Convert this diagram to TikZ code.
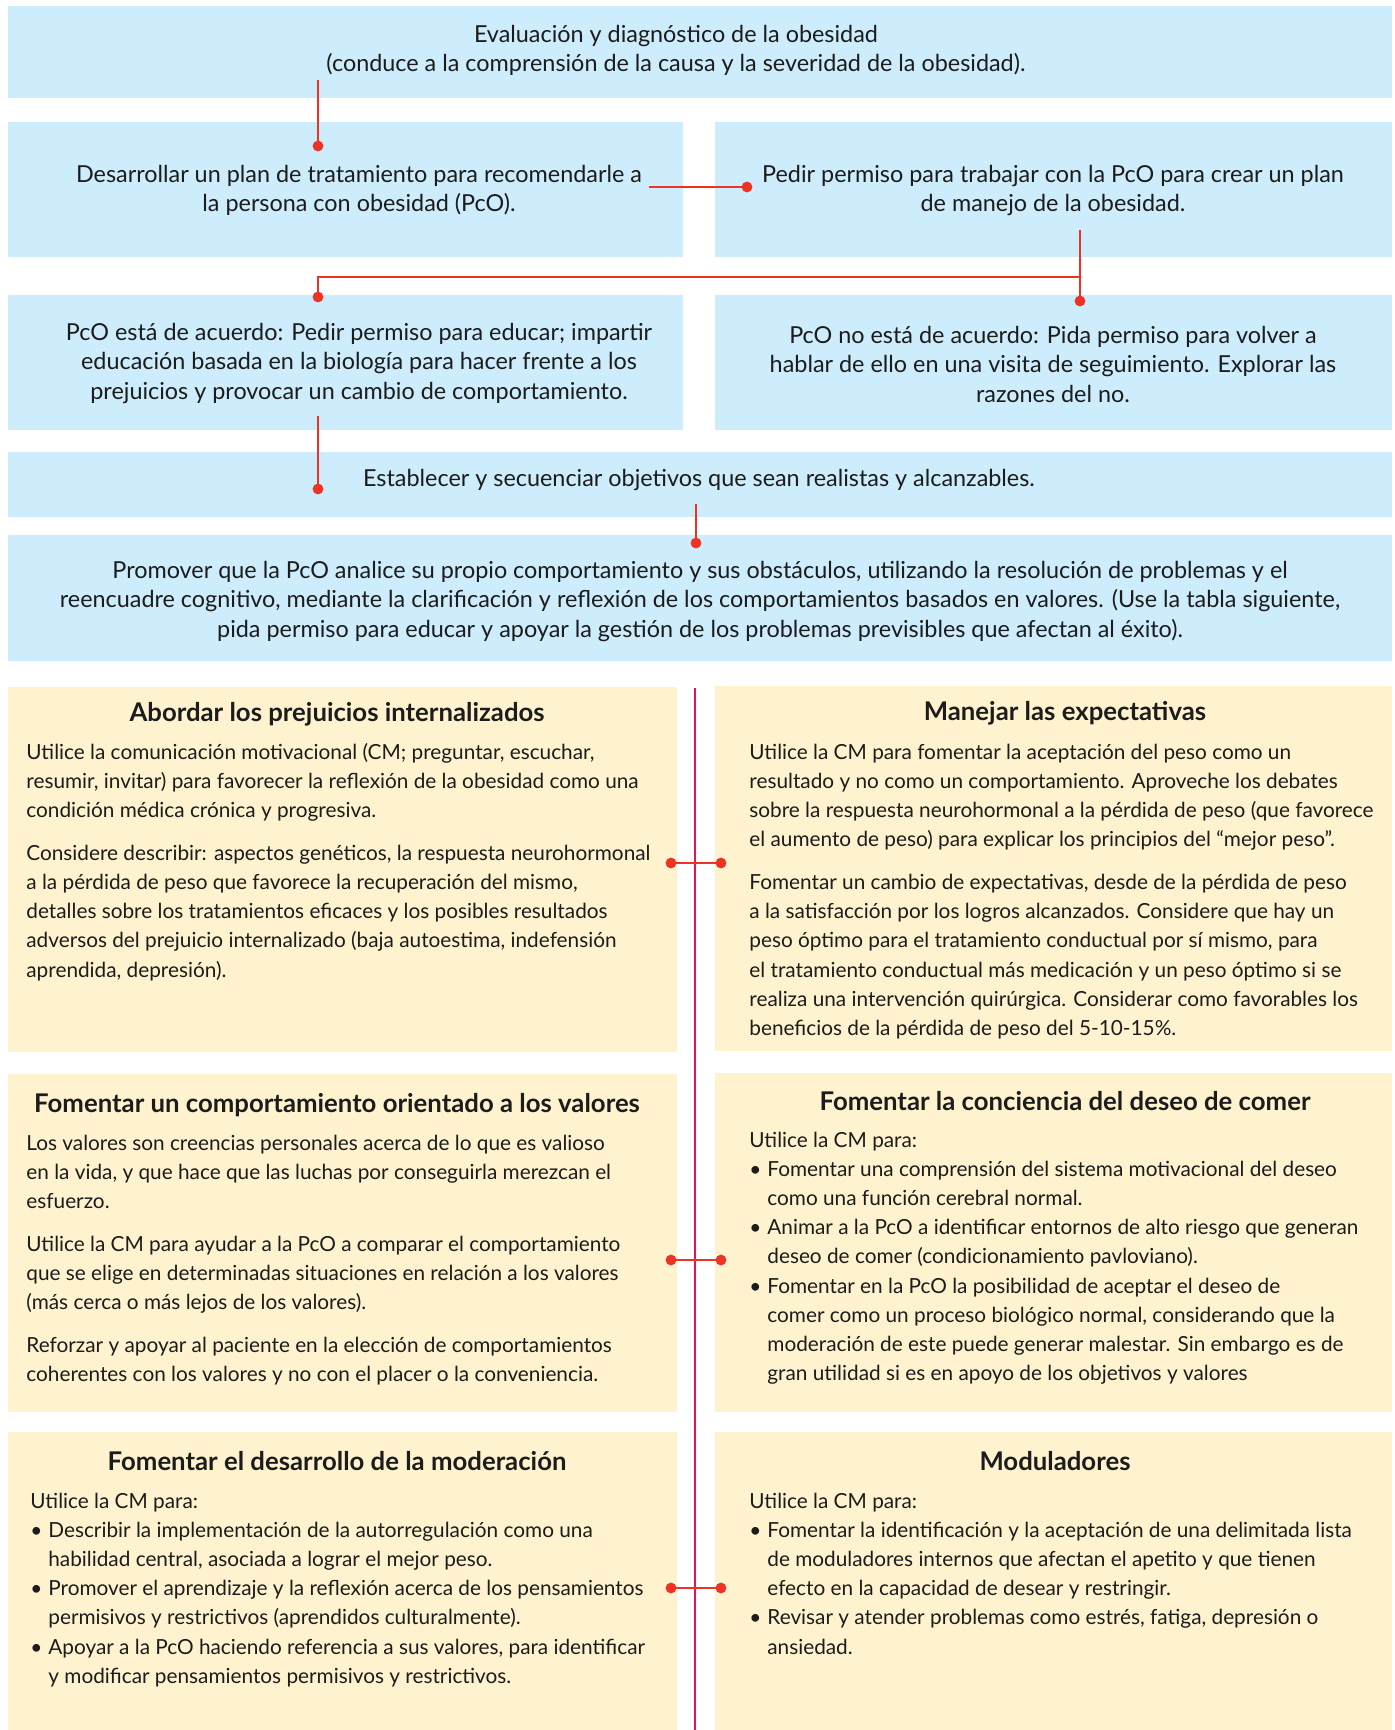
\documentclass[tikz,border=0pt]{standalone}
\usepackage{fontspec}
\setmainfont{Lato}

\definecolor{boxblue}{RGB}{205,236,252}
\definecolor{boxyellow}{RGB}{255,242,206}
\definecolor{linkred}{RGB}{238,50,36}
\definecolor{spine}{RGB}{228,20,85}
\definecolor{ink}{RGB}{28,28,28}

% font size that gives a sample string a wanted width (in pt)
\newlength\calw
\newcommand\fitsize[3]{%
  \settowidth\calw{\fontsize{10pt}{12pt}\selectfont #3}%
  \pgfmathsetmacro#1{10*#2/\calw}}

\newcommand\bitem{\makebox[9pt][l]{\textbullet}}
\newcommand\bcont{\hspace*{9pt}}
\newcommand\pgap{\\[6.8pt]}

\tikzset{
  bluetext/.style={anchor=base, inner sep=0pt, text=ink,
    font=\fontsize{\bluesz pt}{14.75pt}\selectfont},
  titletext/.style={anchor=base, inner sep=0pt, text=ink,
    font=\fontsize{\titlesz pt}{14.6pt}\selectfont\bfseries},
  bodytext/.style={anchor=base west, inner sep=0pt, text=ink,
    font=\fontsize{\bodysz pt}{14.6pt}\selectfont},
  link/.style={draw=linkred, line width=1.35pt},
  spineline/.style={draw=spine, line width=1.35pt},
}
\newcommand\dotat[1]{\fill[linkred] (#1) circle (2.7pt);}
\newcommand\ctr[2]{\parbox[t]{#1}{\centering #2}}
\newcommand\lft[2]{\parbox[t]{#1}{\raggedright #2}}

\begin{document}
\fitsize\bodysz{284}{Utilice la comunicación motivacional (CM; preguntar, escuchar,}%
\fitsize\bluesz{349.5}{(conduce a la comprensión de la causa y la severidad de la obesidad).}%
\fitsize\titlesz{207.5}{\bfseries Abordar los prejuicios internalizados}%
\begin{tikzpicture}[x=0.5pt,y=-0.5pt]
\useasboundingbox (0,0) rectangle (1395,1730);

% ---- panels ----
\fill[boxblue] (8,6) rectangle (1392,98);
\fill[boxblue] (8,122) rectangle (683,257);
\fill[boxblue] (715,122) rectangle (1392,257);
\fill[boxblue] (8,295) rectangle (683,430);
\fill[boxblue] (715,295) rectangle (1392,430);
\fill[boxblue] (8,452) rectangle (1392,517);
\fill[boxblue] (8,535) rectangle (1392,661);
\fill[boxyellow] (8,687) rectangle (677,1052);
\fill[boxyellow] (715,686) rectangle (1392,1051);
\fill[boxyellow] (8,1074) rectangle (677,1412);
\fill[boxyellow] (715,1073) rectangle (1392,1412);
\fill[boxyellow] (8,1432) rectangle (677,1730);
\fill[boxyellow] (715,1432) rectangle (1392,1730);

% ---- flow texts ----
\node[bluetext] (eval) at (676,42) {\ctr{680pt}{Evaluación y diagnóstico de la obesidad\\(conduce a la comprensión de la causa y la severidad de la obesidad).}};
\node[bluetext] (plan) at (359,182) {\ctr{330pt}{Desarrollar un plan de tratamiento para recomendarle a\\la persona con obesidad (PcO).}};
\node[bluetext] (perm) at (1053,182) {\ctr{330pt}{Pedir permiso para trabajar con la PcO para crear un plan\\de manejo de la obesidad.}};
\node[bluetext] (yes) at (359,340) {\ctr{330pt}{PcO está de acuerdo: Pedir permiso para educar; impartir\\educación basada en la biología para hacer frente a los\\prejuicios y provocar un cambio de comportamiento.}};
\node[bluetext] (no) at (1053,343) {\ctr{330pt}{PcO no está de acuerdo: Pida permiso para volver a\\hablar de ello en una visita de seguimiento. Explorar las\\razones del no.}};
\node[bluetext] (goals) at (699,486) {\ctr{680pt}{Establecer y secuenciar objetivos que sean realistas y alcanzables.}};
\node[bluetext] (promo) at (700,578) {\ctr{690pt}{Promover que la PcO analice su propio comportamiento y sus obstáculos, utilizando la resolución de problemas y el\\reencuadre cognitivo, mediante la clarificación y reflexión de los comportamientos basados en valores. (Use la tabla siguiente,\\pida permiso para educar y apoyar la gestión de los problemas previsibles que afectan al éxito).}};

% ---- strategy panels ----
\node[titletext] (h1) at (337,721) {Abordar los prejuicios internalizados};
\node[bodytext] (p1) at (26,759) {\lft{330pt}{Utilice la comunicación motivacional (CM; preguntar, escuchar,\\resumir, invitar) para favorecer la reflexión de la obesidad como una\\condición médica crónica y progresiva.\pgap
Considere describir: aspectos genéticos, la respuesta neurohormonal\\a la pérdida de peso que favorece la recuperación del mismo,\\detalles sobre los tratamientos eficaces y los posibles resultados\\adversos del prejuicio internalizado (baja autoestima, indefensión\\aprendida, depresión).}};

\node[titletext] (h2) at (1065,720) {Manejar las expectativas};
\node[bodytext] (p2) at (749,759) {\lft{330pt}{Utilice la CM para fomentar la aceptación del peso como un\\resultado y no como un comportamiento. Aproveche los debates\\sobre la respuesta neurohormonal a la pérdida de peso (que favorece\\el aumento de peso) para explicar los principios del “mejor peso”.\pgap
Fomentar un cambio de expectativas, desde de la pérdida de peso\\a la satisfacción por los logros alcanzados. Considere que hay un\\peso óptimo para el tratamiento conductual por sí mismo, para\\el tratamiento conductual más medicación y un peso óptimo si se\\realiza una intervención quirúrgica. Considerar como favorables los\\beneficios de la pérdida de peso del 5-10-15\%.}};

\node[titletext] (h3) at (337,1112) {Fomentar un comportamiento orientado a los valores};
\node[bodytext] (p3) at (26,1150) {\lft{330pt}{Los valores son creencias personales acerca de lo que es valioso\\en la vida, y que hace que las luchas por conseguirla merezcan el\\esfuerzo.\pgap
Utilice la CM para ayudar a la PcO a comparar el comportamiento\\que se elige en determinadas situaciones en relación a los valores\\(más cerca o más lejos de los valores).\pgap
Reforzar y apoyar al paciente en la elección de comportamientos\\coherentes con los valores y no con el placer o la conveniencia.}};

\node[titletext] (h4) at (1065,1110) {Fomentar la conciencia del deseo de comer};
\node[bodytext] (p4) at (749,1147) {\lft{330pt}{Utilice la CM para:\\
\bitem Fomentar una comprensión del sistema motivacional del deseo\\
\bcont como una función cerebral normal.\\
\bitem Animar a la PcO a identificar entornos de alto riesgo que generan\\
\bcont deseo de comer (condicionamiento pavloviano).\\
\bitem Fomentar en la PcO la posibilidad de aceptar el deseo de\\
\bcont comer como un proceso biológico normal, considerando que la\\
\bcont moderación de este puede generar malestar. Sin embargo es de\\
\bcont gran utilidad si es en apoyo de los objetivos y valores}};

\node[titletext] (h5) at (337,1470) {Fomentar el desarrollo de la moderación};
\node[bodytext] (p5) at (30,1508) {\lft{330pt}{Utilice la CM para:\\
\bitem Describir la implementación de la autorregulación como una\\
\bcont habilidad central, asociada a lograr el mejor peso.\\
\bitem Promover el aprendizaje y la reflexión acerca de los pensamientos\\
\bcont permisivos y restrictivos (aprendidos culturalmente).\\
\bitem Apoyar a la PcO haciendo referencia a sus valores, para identificar\\
\bcont y modificar pensamientos permisivos y restrictivos.}};

\node[titletext] (h6) at (1055,1470) {Moduladores};
\node[bodytext] (p6) at (749,1508) {\lft{330pt}{Utilice la CM para:\\
\bitem Fomentar la identificación y la aceptación de una delimitada lista\\
\bcont de moduladores internos que afectan el apetito y que tienen\\
\bcont efecto en la capacidad de desear y restringir.\\
\bitem Revisar y atender problemas como estrés, fatiga, depresión o\\
\bcont ansiedad.}};

% ---- connector end points ----
\coordinate (evalOut) at (318,80);
\coordinate (planIn) at (318,146);
\coordinate (planOut) at (649,187);
\coordinate (permIn) at (747,187);
\coordinate (permOut) at (1080,230);
\coordinate (split) at (1080,277);
\coordinate (noIn) at (1080,301);
\coordinate (yesIn) at (318,297);
\coordinate (yesOut) at (318,416);
\coordinate (goalsIn) at (318,489);
\coordinate (goalsOut) at (696,504);
\coordinate (promoIn) at (696,543);
\coordinate (spineTop) at (695,688);
\coordinate (spineEnd) at (695,1730);
\coordinate (rowAl) at (671,863);  \coordinate (rowAr) at (721,863);
\coordinate (rowBl) at (671,1260); \coordinate (rowBr) at (721,1260);
\coordinate (rowCl) at (671,1588); \coordinate (rowCr) at (721,1588);

% ---- connectors ----
\draw[spineline] (spineTop) -- (spineEnd);
\draw[link] (evalOut) -- (planIn);
\draw[link] (planOut) -- (permIn);
\draw[link] (permOut) -- (noIn);
\draw[link] (split) -| (yesIn);
\draw[link] (yesOut) -- (goalsIn);
\draw[link] (goalsOut) -- (promoIn);
\draw[link] (rowAl) -- (rowAr);
\draw[link] (rowBl) -- (rowBr);
\draw[link] (rowCl) -- (rowCr);
\foreach \p in {planIn,permIn,noIn,yesIn,goalsIn,promoIn,rowAl,rowAr,rowBl,rowBr,rowCl,rowCr}
  {\dotat{\p}}
\end{tikzpicture}
\end{document}
